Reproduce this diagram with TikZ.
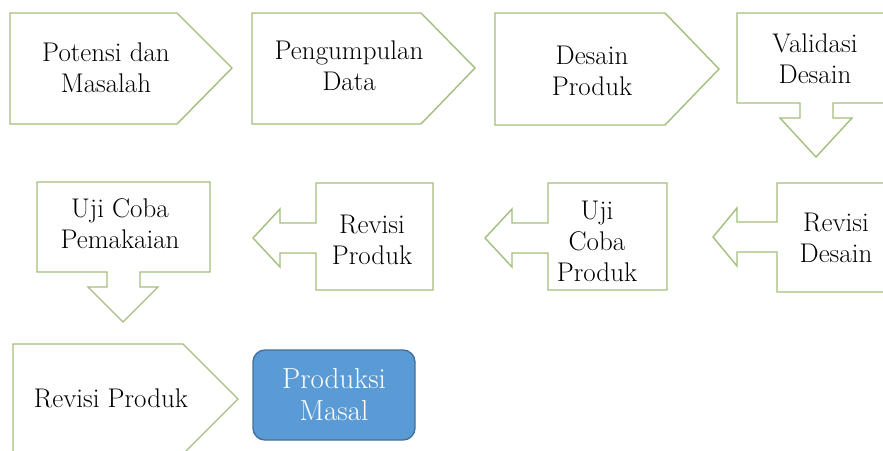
\documentclass[tikz,border=0pt]{standalone}
\definecolor{grn}{HTML}{A4BE7E}
\definecolor{bluefill}{HTML}{5B9BD5}
\definecolor{blueline}{HTML}{41719C}
\tikzset{
  shp/.style={draw=grn, line width=1.4pt, fill=white, line join=miter},
  lbl/.style={font=\fontsize{27}{31}\selectfont, align=center, text=black, inner sep=0pt},
  finalbox/.style={draw=blueline, fill=bluefill, line width=1.4pt, rounded corners=12pt,
    minimum width=162pt, minimum height=90pt, align=center, text=white,
    font=\fontsize{29}{32}\selectfont, inner sep=0pt}
}
\begin{document}
\begin{tikzpicture}[x=1pt,y=-1pt]
\useasboundingbox (0,0) rectangle (883,450);
\clip (0,0) rectangle (883,450);
\fill[white] (0,0) rectangle (883,450);
% row 1
\draw[shp] (10,13) -- (177,13) -- (232,68) -- (177,124) -- (10,124) -- cycle;
\node[lbl] (potensi) at (106,68) {Potensi dan\\Masalah};
\draw[shp] (252,13) -- (421,13) -- (475,68) -- (421,124) -- (252,124) -- cycle;
\node[lbl] (data) at (349,66) {Pengumpulan\\Data};
\draw[shp] (495,13) -- (665,13) -- (719,69) -- (665,125) -- (495,125) -- cycle;
\node[lbl] (desain) at (592,71) {Desain\\Produk};
\draw[shp] (737,13) -- (895,13) -- (895,103) -- (833,103) -- (833,118) -- (852,118) -- (816,157)
  -- (780,118) -- (800,118) -- (800,103) -- (737,103) -- cycle;
\node[lbl] (validasi) at (815,59) {Validasi\\Desain};
% row 2
\draw[shp] (777,183) -- (895,183) -- (895,292) -- (777,292) -- (777,252) -- (737,252) -- (737,266)
  -- (713,237) -- (737,208) -- (737,222) -- (777,222) -- cycle;
\node[lbl] (revdesain) at (836,238) {Revisi\\Desain};
\draw[shp] (548,183) -- (667,183) -- (667,290) -- (548,290) -- (548,253) -- (512,253) -- (512,267)
  -- (485,238) -- (512,209) -- (512,223) -- (548,223) -- cycle;
\node[lbl] (ujicoba) at (597,241) {Uji\\Coba\\Produk};
\draw[shp] (316,183) -- (433,183) -- (433,290) -- (316,290) -- (316,253) -- (280,253) -- (280,267)
  -- (253,238) -- (280,209) -- (280,223) -- (316,223) -- cycle;
\node[lbl] (revproduk) at (372,240) {Revisi\\Produk};
\draw[shp] (37,182) -- (210,182) -- (210,272) -- (140,272) -- (140,287) -- (158,287) -- (123,322)
  -- (88,287) -- (107,287) -- (107,272) -- (37,272) -- cycle;
\node[lbl] (pemakaian) at (120,224) {Uji Coba\\Pemakaian};
% row 3
\draw[shp] (13,344) -- (183,344) -- (238,399) -- (183,454) -- (13,454) -- cycle;
\node[lbl] (revproduk2) at (111,398) {Revisi Produk};
\node[finalbox] (masal) at (334,395) {Produksi\\Masal};
\end{tikzpicture}
\end{document}
